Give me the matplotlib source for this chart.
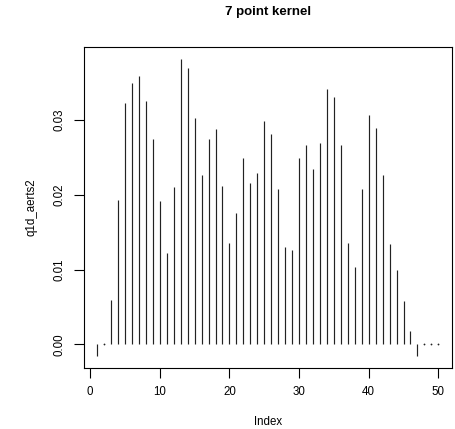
import matplotlib
matplotlib.use("Agg")
import matplotlib.pyplot as plt
import numpy as np

# q1d_aerts2 values (index 1..50)
q1d_aerts2 = [
    -0.0016, 0.0001, 0.0059, 0.0193, 0.0323, 0.0349, 0.0359, 0.0325, 0.0275, 0.0192,
    0.0122, 0.0210, 0.0382, 0.0370, 0.0303, 0.0227, 0.0275, 0.0288, 0.0212, 0.0136,
    0.0176, 0.0249, 0.0216, 0.0229, 0.0298, 0.0281, 0.0208, 0.0130, 0.0126, 0.0249,
    0.0267, 0.0234, 0.0269, 0.0341, 0.0331, 0.0267, 0.0135, 0.0104, 0.0208, 0.0307,
    0.0289, 0.0227, 0.0134, 0.0100, 0.0058, 0.0018, -0.0016, 0.0, 0.0, 0.0,
]
index = np.arange(1, len(q1d_aerts2) + 1)
x_ticks = [0, 10, 20, 30, 40, 50]
y_ticks = [0.00, 0.01, 0.02, 0.03]

plt.rcParams['font.family'] = ['Liberation Sans', 'DejaVu Sans']

W, H = 455, 429
fig = plt.figure(figsize=(W / 100, H / 100), dpi=100)
fig.patch.set_facecolor('white')

# plot region in pixels (left, top, right, bottom)
L, T, R, B = 83.5, 46.7, 452.0, 368.3
ax = fig.add_axes([L / W, 1 - B / H, (R - L) / W, (B - T) / H])

ax.vlines(index, 0, q1d_aerts2, colors='#222222', linewidth=0.85)
# near-zero entries show as dots in R's type="h"
tiny = [(i, v) for i, v in zip(index, q1d_aerts2) if abs(v) < 0.0005]
ax.plot([t[0] for t in tiny], [t[1] for t in tiny], 'o', color='#222222',
        markersize=1.3, markeredgewidth=0)

# R default 4% padding
ymin, ymax = min(q1d_aerts2), max(q1d_aerts2)
dy = (ymax - ymin) * 0.04
dx = (index[-1] - index[0]) * 0.04
ax.set_xlim(index[0] - dx, index[-1] + dx)
ax.set_ylim(ymin - dy, ymax + dy)

ax.set_xticks(x_ticks)
ax.set_yticks(y_ticks)
ax.set_yticklabels(["%.2f" % v for v in y_ticks], rotation=90, va='center')
ax.tick_params(direction='out', length=7, width=0.8, labelsize=8.3, pad=6)
for s in ax.spines.values():
    s.set_linewidth(0.8)

fig.text((L + R) / 2 / W, 1 - 12 / H, "7 point kernel", ha='center', va='center',
         fontsize=9.5, fontweight='bold')
fig.text((L + R) / 2 / W, 1 - 422 / H, "Index", ha='center', va='center', fontsize=8.3)
fig.text(32 / W, 1 - (T + B) / 2 / H, "q1d_aerts2", ha='center', va='center',
         rotation=90, fontsize=8.3)

fig.savefig("out.png", dpi=100, facecolor='white')
